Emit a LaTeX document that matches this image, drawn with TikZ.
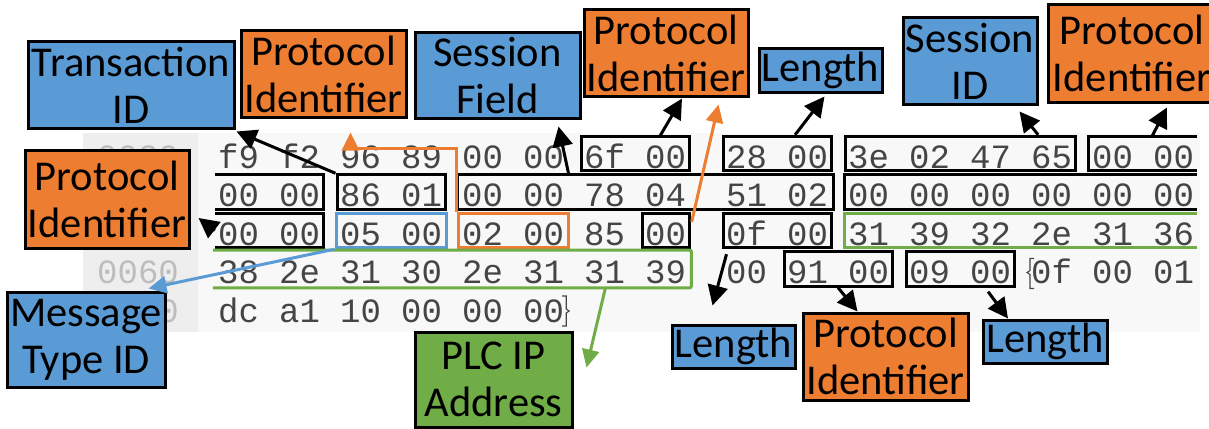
\documentclass[tikz,border=0pt]{standalone}
\usepackage{fontspec}
\usetikzlibrary{arrows.meta,fit,calc}
\newfontfamily\lblfont{Carlito}
\newfontfamily\hexfont{Liberation Mono}
\definecolor{lblblue}{HTML}{5B9BD5}
\definecolor{lblorange}{HTML}{ED7D31}
\definecolor{lblgreen}{HTML}{70AD47}
\definecolor{hexgray}{HTML}{454545}
\definecolor{offgray}{HTML}{BDBDBD}
\definecolor{colbg}{HTML}{EEEEEE}
\definecolor{panelbg}{HTML}{F8F8F8}

\begin{document}
\begin{tikzpicture}[x=1pt,y=-1pt,
  hexb/.style={font=\hexfont\fontsize{34}{34}\selectfont, text=hexgray,
    inner sep=0pt, anchor=base west, text height=29pt, text depth=0pt},
  offs/.style={hexb, text=offgray},
  fitarea/.style={rectangle, inner xsep=3pt, inner ysep=2.5pt},
  blkbox/.style={fitarea, draw=black, line width=3pt},
  bluebox/.style={fitarea, draw=lblblue, line width=3pt},
  orbox/.style={fitarea, draw=lblorange, line width=3pt},
  openblk/.style={draw=black, line width=3pt},
  opengreen/.style={draw=lblgreen, line width=3pt},
  brk/.style={draw=hexgray, line width=1.1pt},
  lbl/.style={draw=black, line width=3pt, align=center, inner sep=0pt,
    font=\lblfont\fontsize{42.5}{47}\selectfont, text=black},
  bluelbl/.style={lbl, fill=lblblue},
  orlbl/.style={lbl, fill=lblorange},
  greenlbl/.style={lbl, fill=lblgreen},
  blkarrow/.style={draw=black, line width=3pt, -{Triangle[length=20pt,width=20pt]}},
  bluearrow/.style={draw=lblblue, line width=3pt, -{Triangle[length=18pt,width=17pt]}},
  orarrow/.style={draw=lblorange, line width=3pt, -{Triangle[length=18pt,width=17pt]}},
  greenarrow/.style={draw=lblgreen, line width=3pt, -{Triangle[length=18pt,width=17pt]}},
]
\useasboundingbox (0,0) rectangle (1209,428);
\clip (0,0) rectangle (1209,428);

% hex dump panel
\fill[panelbg] (198,133) rectangle (1200,332);
\fill[colbg] (83,133) rectangle (198,332);

% offsets left visible beside the labels
\node[offs] (o3) at (97,168) {0030};
\node[offs] (o6) at (97,283.5) {0060};
\node[offs] (o7) at (97,322) {0070};

% bytes
\foreach \b [count=\i from 0] in {f9,f2,96,89,00,00,6f,00,28,00,3e,02,47,65,00,00}
  \node[hexb] (r1-\i) at ({218+61*\i+ifthenelse(\i>7,20,0)},168) {\b};
\foreach \b [count=\i from 0] in {00,00,86,01,00,00,78,04,51,02,00,00,00,00,00,00}
  \node[hexb] (r2-\i) at ({218+61*\i+ifthenelse(\i>7,20,0)},206.5) {\b};
\foreach \b [count=\i from 0] in {00,00,05,00,02,00,85,00,0f,00,31,39,32,2e,31,36}
  \node[hexb] (r3-\i) at ({218+61*\i+ifthenelse(\i>7,20,0)},245) {\b};
\foreach \b [count=\i from 0] in {38,2e,31,30,2e,31,31,39,00,91,00,09,00,0f,00,01}
  \node[hexb] (r4-\i) at ({218+61*\i+ifthenelse(\i>7,20,0)},283.5) {\b};
\foreach \b [count=\i from 0] in {dc,a1,10,00,00,00}
  \node[hexb] (r5-\i) at ({218+61*\i},322) {\b};

% selection brackets
\draw[brk] ($(r4-13.base west)+(3,-25)$) -- ++(-4,0) -- ++(0,12) -- ++(-3,2)
  -- ++(3,2) -- ++(0,14) -- ++(4,0);
\draw[brk] ($(r5-5.base east)+(-2,-26)$) -- ++(4,0) -- ++(0,13) -- ++(3,2)
  -- ++(-3,2) -- ++(0,13) -- ++(-4,0);

\coordinate (edge) at (1197,0);

% row 1 fields
\node[blkbox, fit=(r1-6)(r1-7)] (bx6f) {};
\node[blkbox, fit=(r1-8)(r1-9)] (bx28) {};
\node[blkbox, fit=(r1-10)(r1-13)] (bx3e) {};
\node[fitarea, fit=(r1-14)(r1-15)] (bxr1) {};
\draw[openblk] (bxr1.north west -| edge) -- (bxr1.north west) -- (bxr1.south west) -- (bxr1.south west -| edge);

% row 2 fields
\node[fitarea, fit=(r2-0)(r2-1)] (bxr2a) {};
\draw[openblk] (bxr2a.north west) -- (bxr2a.north east) -- (bxr2a.south east) -- (bxr2a.south west);
\node[blkbox, fit=(r2-2)(r2-3)] (bx86) {};
\node[blkbox, inner xsep=5pt, fit=(r2-4)(r2-9)] (bxlong) {};
\node[fitarea, fit=(r2-10)(r2-15)] (bxr2b) {};
\draw[openblk] (bxr2b.north west -| edge) -- (bxr2b.north west) -- (bxr2b.south west) -- (bxr2b.south west -| edge);

% row 3 fields
\node[fitarea, fit=(r3-0)(r3-1)] (bxr3a) {};
\draw[openblk] (bxr3a.north west) -- (bxr3a.north east) -- (bxr3a.south east) -- (bxr3a.south west);
\node[bluebox, inner xsep=4pt, fit=(r3-2)(r3-3)] (bx05) {};
\node[orbox, inner xsep=4pt, fit=(r3-4)(r3-5)] (bx02) {};
\node[blkbox, fit=(r3-7)] (bxz) {};
\node[blkbox, fit=(r3-8)(r3-9)] (bx0f) {};
\node[fitarea, fit=(r3-10)(r3-15)] (bxg3) {};
\draw[opengreen] (bxg3.north west -| edge) -- (bxg3.north west) -- (bxg3.south west) -- (bxg3.south west -| edge);

% row 4 fields
\node[fitarea, inner xsep=5pt, inner ysep=4pt, fit=(r4-0)(r4-7)] (bxg4) {};
\draw[opengreen, rounded corners=2pt] (bxg4.north west) -- (bxg4.north east) -- (bxg4.south east) -- (bxg4.south west);
\node[blkbox, fit=(r4-9)(r4-10)] (bx91) {};
\node[blkbox, fit=(r4-11)(r4-12)] (bx09) {};

% labels
\node[bluelbl, minimum width=206pt, minimum height=86pt] (tid) at (131,85) {Transaction\\ID};
\node[orlbl, minimum width=165pt, minimum height=86pt] (pid1) at (323.5,74) {Protocol\\Identifier};
\node[bluelbl, minimum width=165pt, minimum height=85pt] (sfield) at (497.5,75.5) {Session\\Field};
\node[orlbl, minimum width=164pt, minimum height=86pt] (pid2) at (666,53) {Protocol\\Identifier};
\node[bluelbl, minimum width=123pt, minimum height=43pt] (len1) at (820.5,70.5) {Length};
\node[bluelbl, minimum width=134pt, minimum height=86pt] (sid) at (970,61) {Session\\ID};
\node[orlbl, minimum width=168pt, minimum height=97pt] (pid3) at (1132,53.5) {Protocol\\Identifier};
\node[orlbl, minimum width=164pt, minimum height=98pt] (pid4) at (107,199) {Protocol\\Identifier};
\node[bluelbl, minimum width=158pt, minimum height=95pt] (mtid) at (86,339.5) {Message\\Type ID};
\node[greenlbl, minimum width=157pt, minimum height=95pt] (plc) at (493.5,379.5) {PLC IP\\Address};
\node[bluelbl, minimum width=123pt, minimum height=43pt] (len2) at (733.5,346.5) {Length};
\node[orlbl, minimum width=165pt, minimum height=87pt] (pid5) at (885.5,356.5) {Protocol\\Identifier};
\node[bluelbl, minimum width=124pt, minimum height=43pt] (len3) at (1045,341.5) {Length};

% connectors
\draw[blkarrow] (bx86.north west) -- ($(tid.south east)+(1,2)$);
\draw[blkarrow] (bxr3a.west) -- ($(pid4.east)+(8,19)$);
\draw[blkarrow] (bxlong.north west) ++(113,0) -- ($(sfield.south east)+(-23,7)$);
\draw[blkarrow] (bx6f.north) ++(25,1) -- ($(pid2.south)+(16,1)$);
\draw[blkarrow] (bx28.north) ++(18,0) -- ($(len1.south)+(4,3)$);
\draw[blkarrow] (bx3e.north) ++(78,0) -- ($(sid.south east)+(-19,6)$);
\draw[blkarrow] (bxr1.north) ++(9,0) -- ($(pid3.south)+(35,4)$);
\draw[blkarrow] (bx0f.south west) ++(5,5) -- ($(len2.north)+(-21,-18)$);
\draw[blkarrow] (bx91.south) -- ($(pid5.north)+(-28,0)$);
\draw[blkarrow] (bx09.south) ++(28,4) -- ($(len3.north)+(-37,0)$);
\draw[bluearrow] (bx05.south west) -- ($(mtid.north east)+(-18,-2)$);
\draw[greenarrow] (bxg4.south east) ++(-86,0) -- ($(plc.east)+(13,-12)$);
\draw[orarrow] (bx02.north west) -- ++(0,-63) -| ($(pid1.south)+(27,14)$);
\draw[orarrow] (bxz.north east) ++(1,10) -- ($(pid2.south east)+(-31,7)$);
\end{tikzpicture}
\end{document}
